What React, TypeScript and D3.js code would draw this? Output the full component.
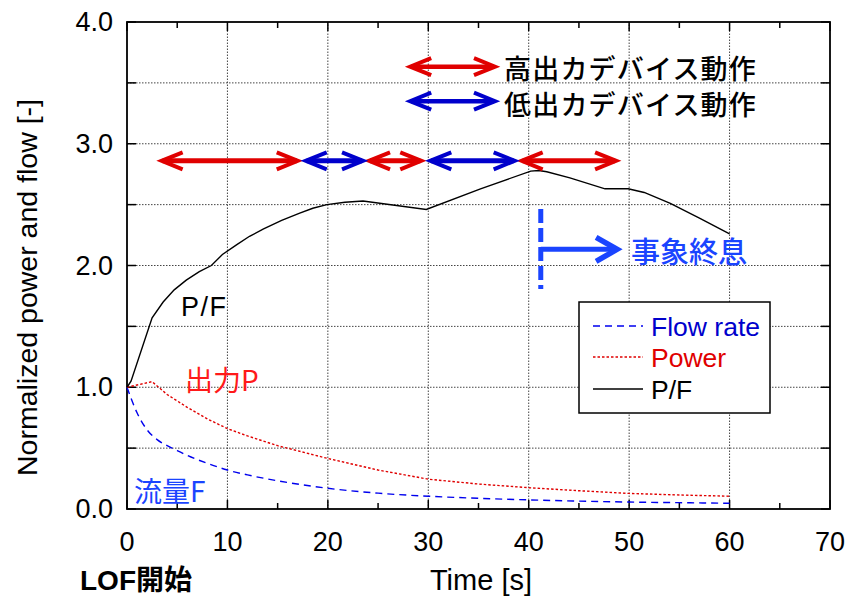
import React from "react";
import * as d3 from "d3";

// ---- data ----
const flowTime = [0, 1, 2, 3, 4, 5, 6, 8, 10, 12, 15, 20, 25, 30, 35, 40, 45, 50, 55, 60];
const flowValue = [1.0, 0.79, 0.65, 0.57, 0.52, 0.48, 0.44, 0.375, 0.32, 0.28, 0.232, 0.17, 0.13, 0.105, 0.088, 0.075, 0.065, 0.057, 0.052, 0.047];

const powerTime = [0, 2.5, 4, 6, 8, 10, 12, 15, 20, 25, 30, 35, 40, 45, 50, 55, 60];
const powerValue = [1.0, 1.046, 0.94, 0.835, 0.74, 0.66, 0.6, 0.52, 0.415, 0.32, 0.245, 0.205, 0.175, 0.15, 0.128, 0.115, 0.105];

const pfTime = [0, 0.4, 2.5, 3.6, 4.7, 5.9, 7.2, 8.4, 9.5, 10.9, 12.2, 13.6, 15.4, 17.2, 18.5, 19.9, 21.7, 23.5, 29.8, 35.2, 40.2, 41.0, 41.8, 44.1, 47.6, 49.9, 51.5, 54.1, 57.0, 60.0];
const pfValue = [1.0, 1.05, 1.57, 1.7, 1.8, 1.88, 1.95, 2.0, 2.09, 2.17, 2.24, 2.3, 2.37, 2.43, 2.47, 2.5, 2.52, 2.53, 2.46, 2.63, 2.775, 2.78, 2.77, 2.72, 2.63, 2.63, 2.6, 2.51, 2.39, 2.26];

const highArrows: [number, number][] = [[3.25, 17.2], [23.9, 29.5], [39.1, 48.9]];
const lowArrows: [number, number][] = [[17.6, 23.7], [30.0, 38.8]];
const arrowLevel = 2.86;

const xTicks = [0, 10, 20, 30, 40, 50, 60, 70];
const xMinorTicks = [5, 15, 25, 35, 45, 55, 65];
const yTicks = [0, 1, 2, 3, 4];
const yGrid = [0.5, 1, 1.5, 2, 2.5, 3, 3.5];

const legendLabels = ["Flow rate", "Power", "P/F"];

// ---- styles ----
const RED = "#e00000";
const BLUE = "#0000cc";
const BRIGHT_BLUE = "#1a44ff";
const LATIN = "'Liberation Sans', Arial, 'Noto Sans CJK JP', sans-serif";
const CJK = "'Noto Sans CJK JP', 'Liberation Sans', sans-serif";

const W = 850;
const H = 598;

const x = d3.scaleLinear().domain([0, 70]).range([127, 830]);
const y = d3.scaleLinear().domain([0, 4]).range([509, 22]);

function DoubleArrow({ x0, x1, yv, color, sw = 5 }: { x0: number; x1: number; yv: number; color: string; sw?: number }) {
  const a = x(x0);
  const b = x(x1);
  const yy = y(yv);
  const L = 23;
  const h = 8.5;
  return (
    <g stroke={color} fill="none" strokeWidth={sw} strokeLinejoin="miter" strokeLinecap="butt">
      <line x1={a + 3} y1={yy} x2={b - 3} y2={yy} />
      <polyline points={`${a + L},${yy - h} ${a + 2},${yy} ${a + L},${yy + h}`} strokeWidth={4} />
      <polyline points={`${b - L},${yy - h} ${b - 2},${yy} ${b - L},${yy + h}`} strokeWidth={4} />
    </g>
  );
}

export default function App() {
  const flowLine = d3
    .line<number>()
    .x((_, i) => x(flowTime[i]))
    .y((d) => y(d))
    .curve(d3.curveMonotoneX)(flowValue);
  const powerLine = d3
    .line<number>()
    .x((_, i) => x(powerTime[i]))
    .y((d) => y(d))(powerValue);
  const pfLine = d3
    .line<number>()
    .x((_, i) => x(pfTime[i]))
    .y((d) => y(d))(pfValue);

  const [xl, xr] = x.range();
  const [yb, yt] = y.range();

  // annotation positions in data space
  const keyX0 = 28.0;
  const keyX1 = 36.84;
  const keyY = [3.633, 3.35];
  const endX = 41.2;
  const endY0 = 2.464;
  const endY1 = 1.807;
  const endArrowY = 2.133;
  const endArrowX1 = 49.0;

  const legX = 579, legY = 302, legW = 191, legH = 111;
  const legRowY = [326, 357, 389];
  const legStyles = [
    { stroke: "#0000ee", dash: "7,5", text: BLUE },
    { stroke: RED, dash: "2.5,2", text: RED },
    { stroke: "#000", dash: undefined, text: "#000" },
  ];

  return (
    <svg width={W} height={H} style={{ position: "absolute", left: 0, top: 0, background: "#fff" }}>
      <rect x={0} y={0} width={W} height={H} fill="#fff" />
      {/* gridlines */}
      <g stroke="#444" strokeWidth={1} strokeDasharray="1.5,1.5">
        {xTicks.slice(1, -1).map((t) => (
          <line key={"gx" + t} x1={x(t)} x2={x(t)} y1={yb} y2={yt} />
        ))}
        {yGrid.map((t) => (
          <line key={"gy" + t} x1={xl} x2={xr} y1={y(t)} y2={y(t)} />
        ))}
      </g>
      {/* ticks */}
      <g stroke="#000" strokeWidth={1.5}>
        {xTicks.map((t) => (
          <g key={"tx" + t}>
            <line x1={x(t)} x2={x(t)} y1={yb} y2={yb - 9} />
            <line x1={x(t)} x2={x(t)} y1={yt} y2={yt + 9} />
          </g>
        ))}
        {xMinorTicks.map((t) => (
          <g key={"mx" + t}>
            <line x1={x(t)} x2={x(t)} y1={yb} y2={yb - 6} />
            <line x1={x(t)} x2={x(t)} y1={yt} y2={yt + 6} />
          </g>
        ))}
        {[0, 0.5, 1, 1.5, 2, 2.5, 3, 3.5, 4].map((t) => (
          <g key={"ty" + t}>
            <line x1={xl} x2={xl + 9} y1={y(t)} y2={y(t)} />
            <line x1={xr} x2={xr - 9} y1={y(t)} y2={y(t)} />
          </g>
        ))}
      </g>
      <rect x={xl} y={yt} width={xr - xl} height={yb - yt} fill="none" stroke="#000" strokeWidth={1.8} />

      {/* series */}
      <path d={flowLine || ""} fill="none" stroke="#0000ee" strokeWidth={1.4} strokeDasharray="7,5" />
      <path d={powerLine || ""} fill="none" stroke={RED} strokeWidth={1.4} strokeDasharray="2.5,2" />
      <path d={pfLine || ""} fill="none" stroke="#000" strokeWidth={1.4} />

      {/* tick labels */}
      <g fontFamily={LATIN} fontSize={27} fill="#000">
        {xTicks.map((t) => (
          <text key={"lx" + t} x={x(t)} y={542} textAnchor="middle" dominantBaseline="central">
            {t}
          </text>
        ))}
        {yTicks.map((t) => (
          <text key={"ly" + t} x={113} y={y(t)} textAnchor="end" dominantBaseline="central">
            {t.toFixed(1)}
          </text>
        ))}
      </g>

      {/* axis titles */}
      <text
        x={0}
        y={0}
        transform={`translate(27,${(yb + yt) / 2 + 22}) rotate(-90)`}
        fontFamily={LATIN}
        fontSize={28.5}
        textAnchor="middle"
        dominantBaseline="central"
      >
        Normalized power and flow [-]
      </text>
      <text x={481} y={580} fontFamily={LATIN} fontSize={29} textAnchor="middle" dominantBaseline="central">
        Time [s]
      </text>
      <text x={80} y={580} fontFamily={LATIN} fontSize={28} fontWeight="bold" dominantBaseline="central">
        LOF開始
      </text>

      {/* device arrows */}
      {highArrows.map(([a, b], i) => (
        <DoubleArrow key={"h" + i} x0={a} x1={b} yv={arrowLevel} color={RED} />
      ))}
      {lowArrows.map(([a, b], i) => (
        <DoubleArrow key={"l" + i} x0={a} x1={b} yv={arrowLevel} color={BLUE} />
      ))}

      {/* arrow key */}
      <DoubleArrow x0={keyX0} x1={keyX1} yv={keyY[0]} color={RED} sw={4.5} />
      <DoubleArrow x0={keyX0} x1={keyX1} yv={keyY[1]} color={BLUE} sw={4.5} />
      <text x={504} y={y(keyY[0]) + 1} fontFamily={CJK} fontSize={27} letterSpacing={1.2} fontWeight={500} dominantBaseline="central">
        高出カデバイス動作
      </text>
      <text x={504} y={y(keyY[1]) + 2} fontFamily={CJK} fontSize={27} letterSpacing={1.2} fontWeight={500} dominantBaseline="central">
        低出カデバイス動作
      </text>

      {/* event end */}
      <line
        x1={x(endX)}
        x2={x(endX)}
        y1={y(endY0)}
        y2={y(endY1)}
        stroke={BRIGHT_BLUE}
        strokeWidth={5}
        strokeDasharray="14,5"
      />
      <g stroke={BRIGHT_BLUE} fill="none" strokeWidth={5}>
        <line x1={x(endX)} x2={x(endArrowX1) - 3} y1={y(endArrowY)} y2={y(endArrowY)} />
        <polyline
          points={`${x(endArrowX1) - 23},${y(endArrowY) - 12} ${x(endArrowX1) - 2},${y(endArrowY)} ${x(endArrowX1) - 23},${y(endArrowY) + 12}`}
          strokeWidth={5.5}
        />
      </g>
      <text x={631} y={y(endArrowY) + 1} fontFamily={CJK} fontSize={29} fontWeight={500} fill={BRIGHT_BLUE} dominantBaseline="central">
        事象終息
      </text>

      {/* curve labels */}
      <text x={181} y={307} fontFamily={LATIN} fontSize={27} dominantBaseline="central" letterSpacing={1.5}>
        P/F
      </text>
      <text x={185} y={379} fontFamily={CJK} fontSize={28} fill="#ff1a1a" dominantBaseline="central">
        出力P
      </text>
      <text x={134} y={490} fontFamily={CJK} fontSize={28} fill={BRIGHT_BLUE} dominantBaseline="central">
        流量F
      </text>

      {/* legend */}
      <rect x={legX} y={legY} width={legW} height={legH} fill="#fff" stroke="#000" strokeWidth={1.5} />
      {legendLabels.map((lab, i) => (
        <g key={lab}>
          <line
            x1={593}
            x2={643}
            y1={legRowY[i]}
            y2={legRowY[i]}
            stroke={legStyles[i].stroke}
            strokeWidth={1.4}
            strokeDasharray={legStyles[i].dash}
          />
          <text x={651} y={legRowY[i] + 1} fontFamily={LATIN} fontSize={26.5} fill={legStyles[i].text} dominantBaseline="central">
            {lab}
          </text>
        </g>
      ))}
    </svg>
  );
}
